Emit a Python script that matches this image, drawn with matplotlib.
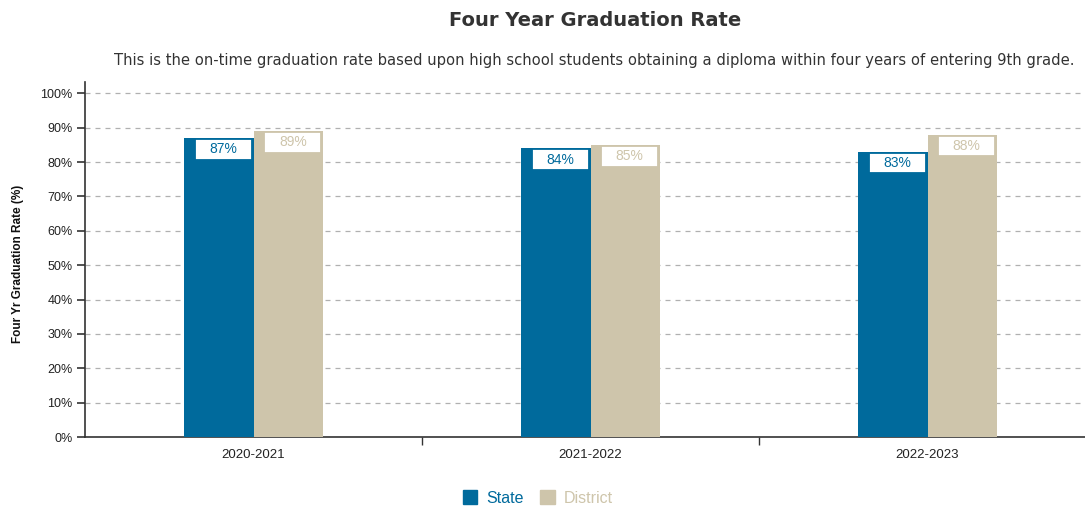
import matplotlib.pyplot as plt
from matplotlib.patches import Patch, Rectangle
import numpy as np

years = ['2020-2021', '2021-2022', '2022-2023']
state = [87, 84, 83]
district = [89, 85, 88]
yticks = list(range(0, 101, 10))

blue = '#006a9c'
beige = '#cec5ab'

W, H = 1085, 508
fig = plt.figure(figsize=(W / 100, H / 100), dpi=100)
# the plot area runs a little past the right edge of the image, as in the original
ax = fig.add_axes([85 / W, (H - 437) / H, 1011 / W, (437 - 82) / H])

x = np.arange(len(years))
bw = 0.205
ax.bar(x - bw / 2, state, width=bw, color=blue, lw=0, zorder=3)
ax.bar(x + bw / 2, district, width=bw, color=beige, lw=0, zorder=3)

# white value boxes just under the bar tops
box_w, box_h = 0.17, 6.0
for xs, vals, col in [(x - bw / 2, state, blue), (x + bw / 2, district, beige)]:
    for xi, v in zip(xs, vals):
        cx = xi + 0.014
        ax.add_patch(Rectangle((cx - box_w / 2, v - 0.3 - box_h), box_w, box_h,
                               facecolor='white', edgecolor=col, lw=1.3, zorder=4))
        ax.text(cx, v - 0.3 - box_h / 2, f'{v}%', color=col, ha='center', va='center',
                fontsize=10, family='Liberation Sans', zorder=5)

ax.set_xlim(-0.5, 2.5)
ax.set_ylim(0, 103.3)
ax.set_yticks(yticks)
ax.set_yticklabels([f'{t}%' for t in yticks], fontsize=9, family='Liberation Sans', color='#222222')
ax.set_xticks(x)
ax.set_xticklabels(years, fontsize=9.5, family='Liberation Sans', color='#222222')
ax.tick_params(axis='x', which='major', length=0, pad=9)
ax.set_xticks([0.5, 1.5], minor=True)
ax.tick_params(axis='x', which='minor', length=6, width=1, color='#333333')
ax.tick_params(axis='y', length=6, width=1.2, color='#333333', pad=3)
ax.grid(axis='y', linestyle=(0, (4, 4)), color='#b0b0b0', lw=0.9, zorder=0)

for s in ['top', 'right']:
    ax.spines[s].set_visible(False)
ax.spines['left'].set_color('#333333')
ax.spines['bottom'].set_color('#333333')
ax.spines['left'].set_linewidth(1.2)
ax.spines['bottom'].set_linewidth(1.2)

fig.text(18 / W, 1 - 264 / H, 'Four Yr Graduation Rate (%)', rotation=90, ha='center', va='center',
         fontsize=8.5, fontweight='bold', family='Liberation Sans', color='#111111')

fig.text(595 / W, 1 - 20 / H, 'Four Year Graduation Rate', ha='center', va='center',
         fontsize=14, fontweight='bold', family='DejaVu Sans', color='#333333')
fig.text(594 / W, 1 - 60 / H,
         'This is the on-time graduation rate based upon high school students obtaining a diploma within four years of entering 9th grade.',
         ha='center', va='center', fontsize=10.65, family='DejaVu Sans', color='#333333')

handles = [Patch(color=blue, label='State'), Patch(color=beige, label='District')]
fig.legend(handles=handles, loc='center', bbox_to_anchor=(538 / W, 1 - 498 / H), ncol=2,
           frameon=False, handlelength=0.9, handleheight=0.9, handletextpad=0.6, columnspacing=1.0,
           labelcolor=[blue, beige], prop={'family': 'Liberation Sans', 'size': 11.5})

fig.savefig('out.png', dpi=100)
